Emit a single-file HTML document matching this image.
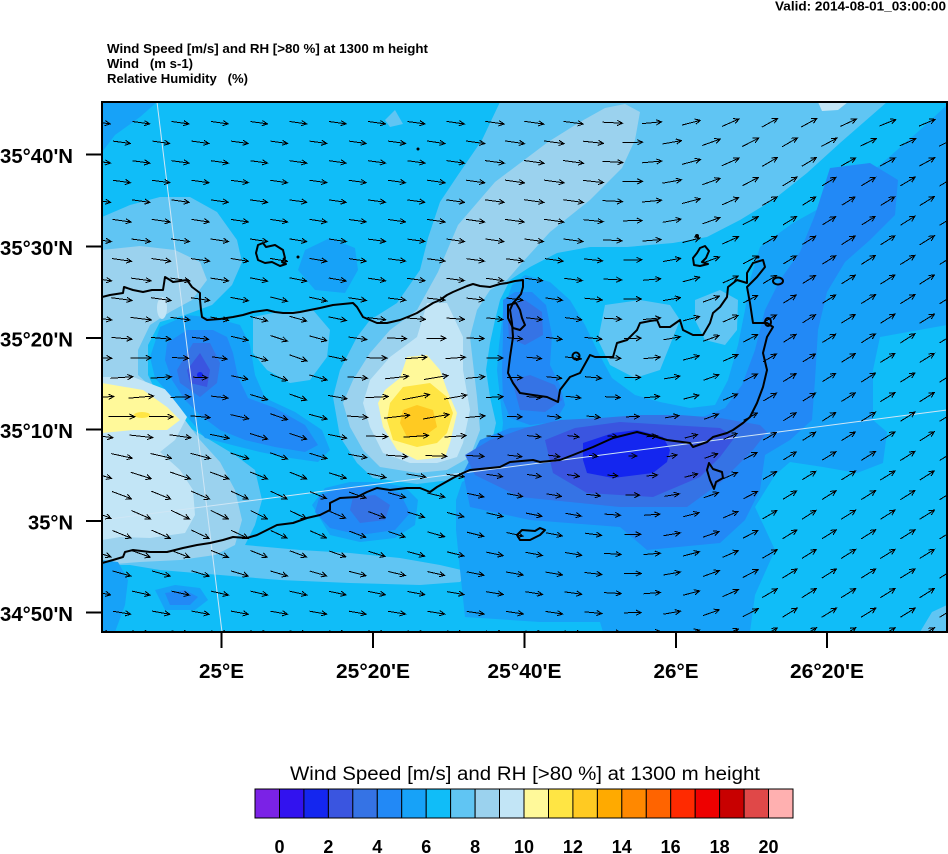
<!DOCTYPE html>
<html><head><meta charset="utf-8">
<style>
html,body{margin:0;padding:0;background:#fff;}
svg{display:block;}
text{font-family:"Liberation Sans",Arial,sans-serif;fill:#000;}
</style></head><body>
<svg width="948" height="854" viewBox="0 0 948 854" xmlns="http://www.w3.org/2000/svg">
<defs><clipPath id="mc"><rect x="102" y="102" width="845" height="530"/></clipPath></defs>

<text x="775" y="10.5" font-size="13" font-weight="bold" textLength="171" lengthAdjust="spacingAndGlyphs">Valid: 2014-08-01_03:00:00</text>
<text x="107" y="53" font-size="13" font-weight="bold" textLength="321" lengthAdjust="spacingAndGlyphs">Wind Speed [m/s] and RH [&gt;80 %] at 1300 m height</text>
<text x="107" y="68" font-size="13" font-weight="bold" textLength="86" lengthAdjust="spacingAndGlyphs" style="white-space:pre">Wind   (m s-1)</text>
<text x="107" y="83" font-size="13" font-weight="bold" textLength="141" lengthAdjust="spacingAndGlyphs" style="white-space:pre">Relative Humidity   (%)</text>

<g clip-path="url(#mc)">
<rect x="102" y="102" width="845" height="530" fill="#10bdf8"/>
<g fill="#60c5f3">
<polygon points="102,217 130,205 160,197 190,197 217,212 237,240 242,262 232,285 212,305 185,315 160,322 148,345 148,375 160,400 185,425 210,440 235,455 255,470 262,500 255,525 245,545 300,550 350,553 400,558 440,565 470,572 460,582 420,585 350,583 280,580 220,575 160,570 130,565 102,565"/>
<polygon points="253,317 273,313 313,310 330,330 327,357 310,380 290,383 267,370 253,353"/>
<polygon points="500,102 887,102 840,143 807,173 773,200 740,220 707,237 673,243 627,247 590,247 557,253 530,267 510,280 500,300 495,320 490,343 486,370 490,397 496,423 490,450 472,472 450,480 417,484 373,478 357,463 340,437 333,397 340,370 357,337 370,320 397,303 420,270 428,238 440,202 458,175 482,140"/>
<polygon points="605,305 640,300 670,305 680,320 670,345 660,370 635,378 610,365 598,340"/>
<polygon points="695,300 720,290 738,300 737,330 725,345 705,340 695,320"/>
<polygon points="395,110 403,124 390,127 385,120"/>
<polygon points="920,632 947,632 947,605 932,612"/>
</g>
<g fill="#9bd2ee">
<polygon points="102,250 140,246 175,250 200,262 207,280 192,300 170,312 150,325 138,350 138,375 160,395 185,420 200,440 220,462 235,490 242,520 235,545 215,555 180,560 140,562 102,565"/>
<polygon points="605,108 625,104 640,112 635,140 622,168 590,200 550,232 520,265 507,280 490,290 477,310 470,337 473,363 477,397 480,430 470,457 447,470 417,473 380,467 363,450 350,427 343,403 353,380 370,353 390,330 417,310 438,272 458,225 495,182 548,142 580,122"/>
</g>
<g fill="#c2e5f6">
<polygon points="102,377 133,377 167,390 187,417 175,440 160,452 180,470 193,490 195,515 185,533 150,538 120,537 102,540"/>
<polygon points="427,303 447,303 463,337 463,370 470,410 463,443 457,457 437,463 410,463 383,453 370,427 363,403 370,380 390,357 417,337 423,317"/>
<ellipse cx="162" cy="308" rx="5" ry="11"/>
<polygon points="818,102 848,102 838,110 822,111"/>
</g>
<g fill="#fff99a">
<polygon points="102,383 143,390 167,407 180,420 167,430 133,430 102,433"/>
<polygon points="407,357 427,355 440,370 447,390 457,413 450,443 445,457 417,460 397,450 383,427 378,403 385,390 400,378"/>
</g>
<g fill="#ffe544">
<ellipse cx="142" cy="415" rx="8" ry="3"/>
<polygon points="403,387 430,383 447,397 453,413 447,433 437,443 417,447 393,440 387,420 390,403"/>
</g>
<polygon fill="#ffca22" points="403,410 417,405 433,410 437,427 423,437 407,437 400,423"/>
<g fill="#17a2f8">
<polygon points="102,102 157,102 140,117 115,135 102,152"/>
<polygon points="150,357 160,327 187,315 215,318 240,325 250,345 255,375 265,398 295,412 322,430 330,450 318,462 290,458 260,452 232,445 205,438 190,420 170,395 155,378"/>
<polygon points="330,238 355,248 358,270 345,293 315,290 298,270 305,250"/>
<polygon points="312,505 325,488 350,482 380,482 405,487 418,500 415,525 395,538 360,542 330,535"/>
<polygon points="947,105 920,130 880,165 840,197 793,223 760,247 750,280 745,310 738,345 728,380 715,405 690,408 660,402 635,395 612,378 598,352 585,325 570,300 550,282 525,275 512,285 503,312 499,345 497,370 500,397 503,423 500,450 480,472 462,482 456,500 456,530 460,570 465,617 540,622 600,622 603,632 750,632 755,595 775,550 755,507 775,475 790,462 823,467 857,473 883,463 887,432 873,420 873,370 880,337 947,325"/>
<polygon points="102,560 118,562 128,580 125,605 115,632 102,632"/>
<polygon points="155,590 175,585 200,588 208,600 195,610 165,610"/>
</g>
<g fill="#2289f6">
<polygon points="167,343 187,330 213,330 227,337 233,353 238,377 248,398 275,408 305,425 318,445 305,452 275,447 245,440 220,430 200,415 185,400 172,380 165,360"/>
<polygon points="320,495 345,487 375,487 400,493 410,513 395,530 360,535 330,528 315,512"/>
<polygon points="503,300 515,292 532,292 546,305 552,335 550,365 560,385 565,405 555,422 530,425 510,418 503,400 502,370 503,335"/>
<polygon points="830,168 870,163 898,180 895,215 870,240 845,262 827,292 818,330 815,380 812,420 790,440 765,455 760,490 745,520 720,543 647,550 620,527 530,520 470,507 463,473 480,440 510,428 560,425 600,420 650,418 700,418 725,408 742,385 755,350 765,310 780,280 800,252 815,215"/>
<polygon points="165,593 185,590 198,597 190,605 170,605"/>
</g>
<g fill="#3573e5">
<polygon points="177,370 193,343 210,343 220,363 217,383 200,397 180,383"/>
<polygon points="507,305 525,300 542,312 543,335 525,345 509,338"/>
<polygon points="512,380 530,375 555,385 562,400 545,412 520,410"/>
<polygon points="353,497 375,495 390,505 385,520 360,523 350,510"/>
<polygon points="465,455 490,440 525,428 560,420 600,418 640,415 680,415 720,418 760,425 767,432 753,450 720,483 687,507 620,507 520,497 475,475"/>
</g>
<g fill="#3a55e0">
<polygon points="187,370 200,353 210,370 207,387 190,383"/>
<polygon points="545,440 575,428 620,422 670,425 720,428 735,437 720,457 700,477 653,497 587,493 553,473"/>
</g>
<g fill="#1426ef">
<polygon points="583,443 613,433 637,430 663,437 670,450 667,462 653,473 613,478 587,473 583,460"/>
<circle cx="200" cy="375" r="3"/>
</g>

<g stroke="#cfe6f5" stroke-width="1" fill="none">
<line x1="157" y1="102" x2="222" y2="632"/>
<line x1="102" y1="520" x2="947" y2="410"/>
</g>

<g stroke="#000" stroke-width="2" fill="none" stroke-linejoin="round">
<polyline points="102,297 110,295 123,293 124,287 133,290 143,292 152,290 163,290 165,277 170,280 173,282 180,281 187,280 192,287 200,293 200,300 201,310 202,317 207,320 220,319 233,317 243,315 253,312 260,311 267,310 275,312 283,313 293,313 300,312 310,310 320,308 333,305 343,304 353,303 357,307 363,317 370,320 377,323 387,323 400,320 410,316 417,313 425,308 433,303 440,300 447,295 453,292 460,289 467,286 473,284 480,286 490,287 500,284 507,283 515,281 523,280 523,287 521,294 516,300 513,303 510,310 512,323 513,337 510,357 508,373 513,383 520,393 533,395 547,397 558,402 560,390 570,377 580,373 590,355 595,357 605,357 613,357 617,343 627,340 637,330 640,323 650,321 657,320 660,327 670,327 680,320 683,330 693,335 703,335 710,323 713,313 720,307 727,297 728,287 737,280 747,283 747,273 753,263 763,260 765,267 757,277 747,287 750,303 753,323 767,323 773,327 767,337 763,353 767,370 763,387 757,403 750,417 743,423 733,430 727,433 713,437 707,442 693,447 690,443 667,440 657,437 637,432 613,438 593,447 573,455 560,460 540,462 533,460 510,462 500,467 470,470 463,473 453,478 437,487 430,492 420,488 407,488 390,490 377,488 367,492 357,497 340,498 330,503 330,510 320,515 307,518 293,523 277,525 267,530 257,535 247,538 233,537 223,540 210,543 197,545 183,548 167,552 150,552 133,550 125,552 123,557 113,560 102,563"/>
<polygon points="508,305 516,303 520,310 522,318 525,325 520,330 513,328 508,318"/>
<polygon points="258,245 263,243 266,247 275,245 283,250 285,258 282,262 286,264 280,266 272,262 265,263 258,260 256,253"/>
<polygon points="700,248 705,246 709,251 706,258 702,262 708,264 700,266 694,265 693,258 697,253"/>
<ellipse cx="778" cy="281" rx="5" ry="3.5"/>
<ellipse cx="576" cy="356" rx="3.5" ry="3.5"/>
<ellipse cx="768" cy="322" rx="3" ry="4"/>
<polygon points="709,463 713,469 722,472 723,478 716,482 714,489 710,480 707,470"/>
<polygon points="517,535 522,530 535,531 540,528 545,530 540,535 530,540 520,540"/>
</g>
<g fill="#000">
<circle cx="298" cy="257" r="1.5"/>
<circle cx="418" cy="149" r="1.5"/>
<circle cx="697" cy="236" r="2"/>
<circle cx="758" cy="257" r="1.5"/>
</g>

<path id="arr" d="" stroke="#000" stroke-width="1" fill="none" shape-rendering="crispEdges"/>
</g>

<rect x="102" y="102" width="845" height="530" fill="none" stroke="#000" stroke-width="2"/>
<g stroke="#000" stroke-width="2">
<line x1="86" y1="154.5" x2="102" y2="154.5"/>
<line x1="86" y1="246.5" x2="102" y2="246.5"/>
<line x1="86" y1="338" x2="102" y2="338"/>
<line x1="86" y1="429.5" x2="102" y2="429.5"/>
<line x1="86" y1="521" x2="102" y2="521"/>
<line x1="86" y1="612.5" x2="102" y2="612.5"/>
<line x1="221.5" y1="632" x2="221.5" y2="648"/>
<line x1="373" y1="632" x2="373" y2="648"/>
<line x1="524.5" y1="632" x2="524.5" y2="648"/>
<line x1="676" y1="632" x2="676" y2="648"/>
<line x1="827" y1="632" x2="827" y2="648"/>
</g>
<g font-size="20" font-weight="bold">
<text x="0" y="163" textLength="73" lengthAdjust="spacingAndGlyphs">35°40'N</text>
<text x="0" y="255" textLength="73" lengthAdjust="spacingAndGlyphs">35°30'N</text>
<text x="0" y="346.5" textLength="73" lengthAdjust="spacingAndGlyphs">35°20'N</text>
<text x="0" y="438" textLength="73" lengthAdjust="spacingAndGlyphs">35°10'N</text>
<text x="28" y="529.5" textLength="45" lengthAdjust="spacingAndGlyphs">35°N</text>
<text x="0" y="621" textLength="73" lengthAdjust="spacingAndGlyphs">34°50'N</text>
<text x="199" y="678" textLength="45" lengthAdjust="spacingAndGlyphs">25°E</text>
<text x="336" y="678" textLength="74" lengthAdjust="spacingAndGlyphs">25°20'E</text>
<text x="487.5" y="678" textLength="74" lengthAdjust="spacingAndGlyphs">25°40'E</text>
<text x="653.5" y="678" textLength="45" lengthAdjust="spacingAndGlyphs">26°E</text>
<text x="790" y="678" textLength="74" lengthAdjust="spacingAndGlyphs">26°20'E</text>
</g>

<text x="290" y="780" font-size="19" textLength="470" lengthAdjust="spacingAndGlyphs">Wind Speed [m/s] and RH [&gt;80 %] at 1300 m height</text>
<g id="cb" stroke="#000" stroke-width="1"></g>
<g id="cbl" font-size="18" font-weight="bold" text-anchor="middle"></g>
</svg>
<script>
(function(){
var ns="http://www.w3.org/2000/svg";
function G(dx,dy,sx,sy){return Math.exp(-(dx*dx/(2*sx*sx)+dy*dy/(2*sy*sy)));}
function sp(x,y){
 var s=6.5;
 s+=5.5*G(x-420,y-410,35,35);
 s+=4*G(x-125,y-408,40,22);
 s+=2.5*G(x-150,y-480,70,70);
 s+=2*G(x-130,y-300,60,60);
 s+=1.5*G(x-560,y-180,70,70);
 s+=1*G(x-680,y-150,120,60);
 s+=1.5*G(x-420,y-410,80,70);
 s-=3.5*G(x-202,y-372,22,25);
 s-=4*G(x-625,y-455,50,22);
 s-=2*G(x-600,y-450,120,50);
 s-=1.5*G(x-520,y-360,35,60);
 s-=1.5*G(x-800,y-320,40,110);
 s-=1*G(x-850,y-200,40,30);
 return Math.max(s,1);
}
function an(x,y){
 var a=-8;
 var t=Math.min(Math.max((x-560)/240,0),1);
 a+=40*t*t*(3-2*t);
 a-=18*G(x-230,y-520,170,45);
 a+=20*G(x-430,y-400,60,45);
 a+=14*G(x-140,y-390,60,30);
 a-=14*G(x-290,y-380,45,60);
 a-=10*G(x-900,y-120,60,30);
 return a;
}
function f(v){return Math.round(v*10)/10;}
var d="";
var h=6,w=0.45,cw=Math.cos(w),sw=Math.sin(w);
for(var r=0;r<=26;r++){
 var y=122.7+19.6*r;
 var x0=(r%2==0)?101.7:82.4;
 for(var x=x0;x<990;x+=39.3){
  var s=sp(x,y),L=7+1.6*s,a=an(x,y)*Math.PI/180;
  var ux=Math.cos(a),uy=-Math.sin(a);
  var tx=x-ux*L/2,ty=y-uy*L/2,hx=x+ux*L/2,hy=y+uy*L/2;
  var bx=-ux,by=-uy;
  var r1x=bx*cw-by*sw,r1y=bx*sw+by*cw;
  var r2x=bx*cw+by*sw,r2y=-bx*sw+by*cw;
  d+="M"+f(tx)+" "+f(ty)+"L"+f(hx)+" "+f(hy)+"M"+f(hx+h*r1x)+" "+f(hy+h*r1y)+"L"+f(hx)+" "+f(hy)+"L"+f(hx+h*r2x)+" "+f(hy+h*r2y);
 }
}
document.getElementById("arr").setAttribute("d",d);
var cols=["#7b22e6","#3212ef","#1426ef","#3a55e0","#3573e5","#2289f6","#17a2f8","#10bdf8","#60c5f3","#9bd2ee","#c2e5f6","#fff99a","#ffe544","#ffca22","#ffaa00","#ff8800","#ff6400","#ff2a00","#ee0000","#c80000","#e04848","#ffb0b0"];
var cb=document.getElementById("cb");
var bw=(793-255)/22;
for(var i=0;i<22;i++){
 var rc=document.createElementNS(ns,"rect");
 rc.setAttribute("x",f(255+i*bw));rc.setAttribute("y","789");
 rc.setAttribute("width",f(bw));rc.setAttribute("height","29");
 rc.setAttribute("fill",cols[i]);cb.appendChild(rc);
}
var cl=document.getElementById("cbl");
for(var j=0;j<=10;j++){
 var tx2=document.createElementNS(ns,"text");
 tx2.setAttribute("x",f(255+bw*(1+2*j)));tx2.setAttribute("y","853");
 tx2.textContent=String(2*j);cl.appendChild(tx2);
}
})();
</script>
</body></html>
